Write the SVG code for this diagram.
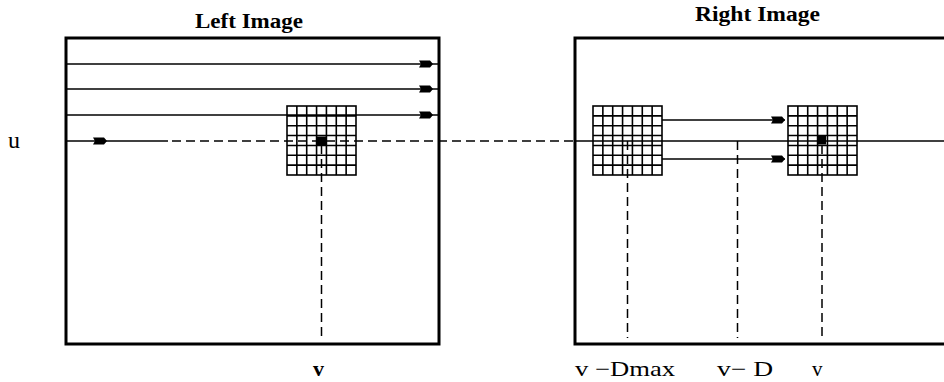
<svg xmlns="http://www.w3.org/2000/svg" xmlns:xlink="http://www.w3.org/1999/xlink" width="944" height="382" viewBox="0 0 944 382">
<style>
.frame{fill:none;stroke:#000;stroke-width:3}
.ln{fill:none;stroke:#000;stroke-width:1.4}
.dash{fill:none;stroke:#000;stroke-width:1.5;stroke-dasharray:9 5}
.grid{fill:none;stroke:#000;stroke-width:1.6}
.title{font-family:"Liberation Serif",serif;font-weight:bold;font-size:20px;fill:#000}
.lbl{font-family:"Liberation Serif",serif;font-size:21px;fill:#000}
.lblb{font-family:"Liberation Serif",serif;font-weight:bold;font-size:22px;fill:#000}
.dot{fill:#000}
</style>
<defs>
<path id="ah" d="M-14,-3.5 L-3,-3.5 L0,0 L-3,3.5 L-14,3.5 L-12,0 Z" fill="#000"/>
<g id="g7">
<rect x="0" y="0" width="69" height="69" class="grid"/>
<path class="grid" d="M9.86,0V69M19.71,0V69M29.57,0V69M39.43,0V69M49.29,0V69M59.14,0V69M0,9.86H69M0,19.71H69M0,29.57H69M0,39.43H69M0,49.29H69M0,59.14H69"/>
</g>
</defs>

<g id="left-image">
<rect class="frame" x="66" y="38" width="373" height="306"/>
<text class="title" x="195" y="28" textLength="108" lengthAdjust="spacingAndGlyphs">Left Image</text>
</g>

<g id="right-image">
<rect class="frame" x="575" y="38" width="380" height="306"/>
<text class="title" x="695" y="21" textLength="125" lengthAdjust="spacingAndGlyphs">Right Image</text>
</g>

<g id="left-window">
<use xlink:href="#g7" href="#g7" x="287" y="106"/>
<rect class="dot" x="317" y="136.5" width="9" height="9"/>
</g>

<g id="right-window-1">
<use xlink:href="#g7" href="#g7" x="593" y="106"/>
</g>

<g id="right-window-2">
<use xlink:href="#g7" href="#g7" x="788" y="106"/>
<rect class="dot" x="817" y="135.5" width="9" height="9"/>
</g>

<g id="connectors">
<line class="ln" x1="66" y1="64" x2="439" y2="64"/>
<line class="ln" x1="66" y1="89" x2="439" y2="89"/>
<line class="ln" x1="66" y1="115" x2="439" y2="115"/>
<use href="#ah" xlink:href="#ah" x="433" y="64"/>
<use href="#ah" xlink:href="#ah" x="433" y="89"/>
<use href="#ah" xlink:href="#ah" x="433" y="115"/>
<line class="ln" x1="66" y1="141" x2="168" y2="141"/>
<use href="#ah" xlink:href="#ah" x="107" y="141"/>
<line class="dash" x1="172" y1="141" x2="575" y2="141"/>
<line class="ln" x1="575" y1="141" x2="944" y2="141"/>
<line class="ln" x1="662" y1="120" x2="785" y2="120"/>
<line class="ln" x1="662" y1="159" x2="785" y2="159"/>
<use href="#ah" xlink:href="#ah" x="785" y="120"/>
<use href="#ah" xlink:href="#ah" x="785" y="159"/>
<line class="dash" x1="321.5" y1="145" x2="321.5" y2="338"/>
<line class="dash" x1="627.5" y1="141" x2="627.5" y2="338"/>
<line class="dash" x1="737.5" y1="141" x2="737.5" y2="338"/>
<line class="dash" x1="822" y1="145" x2="822" y2="338"/>
</g>

<g id="labels">
<text class="lbl" x="8" y="148" style="font-size:24px">u</text>
<text class="lblb" x="313" y="376">v</text>
<text class="lbl" x="575" y="376" textLength="100" lengthAdjust="spacingAndGlyphs">v −Dmax</text>
<text class="lbl" x="717" y="376" textLength="56" lengthAdjust="spacingAndGlyphs">v− D</text>
<text class="lbl" x="812" y="376">v</text>
</g>
</svg>
